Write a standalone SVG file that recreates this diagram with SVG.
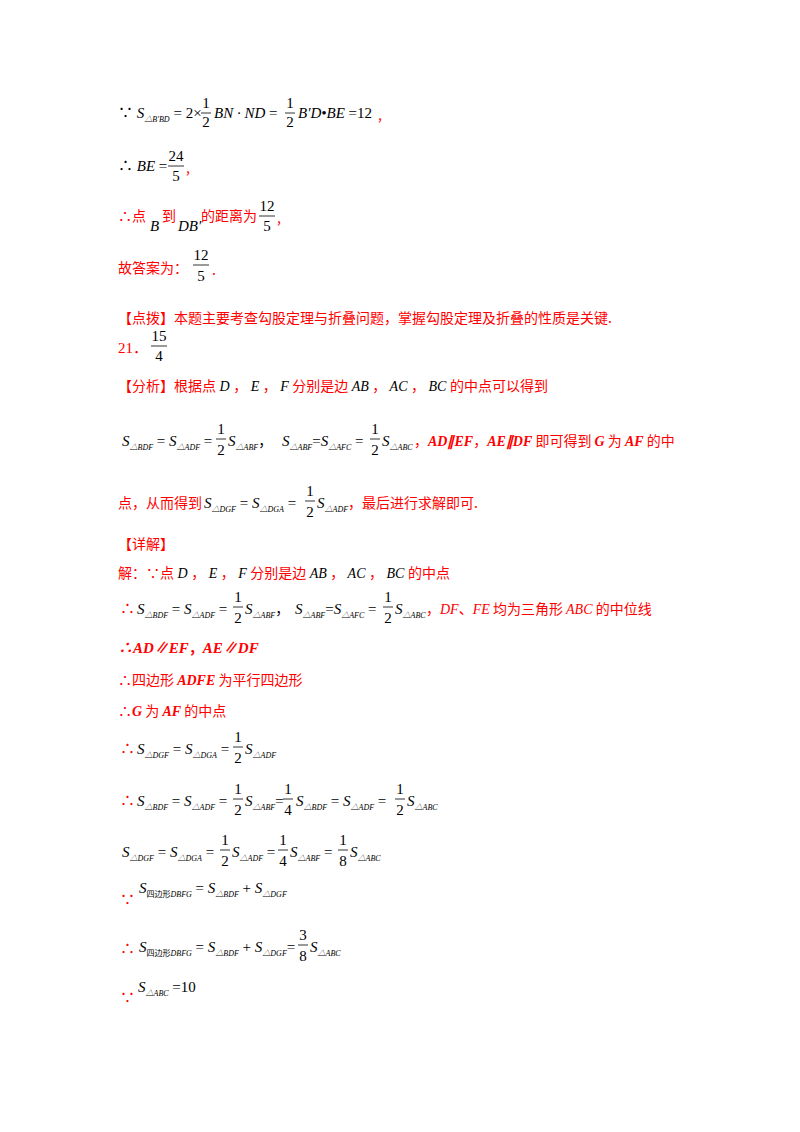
<svg xmlns="http://www.w3.org/2000/svg" width="800" height="1132" viewBox="0 0 800 1132">
<style>
text{font-family:"Liberation Serif","Noto Sans CJK SC",serif;font-size:15px;fill:#000}
.i{font-style:italic}
.s{font-size:8px;font-style:italic}
.r{fill:#ff0000}
.c{font-family:"Noto Sans CJK SC",sans-serif;font-size:14px}
.f{text-anchor:middle;font-size:15px}
.fl{stroke:#000;stroke-width:0.8}
</style>
<rect width="800" height="1132" fill="#fff"/>
<g id="l1">
<text x="118" y="118">∵ <tspan class="i">S</tspan><tspan class="s" dy="4">△B′BD</tspan><tspan dy="-4" dx="4">= 2×</tspan></text>
<text class="f" x="206" y="108">1</text><line class="fl" x1="201" y1="113" x2="211" y2="113"/><text class="f" x="206" y="127">2</text>
<text class="i" x="214" y="118">BN · ND <tspan font-style="normal">=</tspan></text>
<text class="f" x="290" y="108">1</text><line class="fl" x1="285" y1="113" x2="295" y2="113"/><text class="f" x="290" y="127">2</text>
<text class="i" x="298" y="118">B′D•BE <tspan font-style="normal">=12</tspan></text>
<text class="r c" x="378" y="120">,</text>
</g>
<g id="l2">
<text x="118" y="171">∴ <tspan class="i">BE</tspan> =</text>
<text class="f" x="176" y="161">24</text><line class="fl" x1="168" y1="166" x2="184" y2="166"/><text class="f" x="176" y="181">5</text>
<text class="r c" x="186" y="173">,</text>
</g>
<g id="l3">
<text class="r c" x="118" y="221">∴点</text>
<text class="i" x="150" y="231" font-size="13">B</text>
<text class="r c" x="162" y="221">到</text>
<text class="i" x="178" y="231" font-size="13">DB′</text>
<text class="r c" x="201" y="221">的距离为</text>
<text class="f" x="267" y="211">12</text><line class="fl" x1="259" y1="216" x2="275" y2="216"/><text class="f" x="267" y="231">5</text>
<text class="r c" x="277" y="223">,</text>
</g>
<g id="l4">
<text class="r c" x="118" y="273">故答案为：</text>
<text class="f" x="201" y="260">12</text><line class="fl" x1="193" y1="265" x2="209" y2="265"/><text class="f" x="201" y="281">5</text>
<text class="r c" x="212" y="275">.</text>
</g>
<text id="l5" class="r c" x="118" y="323">【点拨】本题主要考查勾股定理与折叠问题，掌握勾股定理及折叠的性质是关键.</text>
<g id="l6">
<text class="r" x="118" y="353">21．</text>
<text class="f" x="159" y="341">15</text><line class="fl" x1="151" y1="346" x2="167" y2="346"/><text class="f" x="159" y="361">4</text>
</g>
<text id="l7" class="r c" x="118" y="391">【分析】根据点<tspan class="i" style="fill:#000;font-family:'Liberation Serif'"> D </tspan>，<tspan class="i" style="fill:#000;font-family:'Liberation Serif'"> E </tspan>，<tspan class="i" style="fill:#000;font-family:'Liberation Serif'"> F </tspan>分别是边<tspan class="i" style="fill:#000;font-family:'Liberation Serif'"> AB </tspan>，<tspan class="i" style="fill:#000;font-family:'Liberation Serif'"> AC </tspan>，<tspan class="i" style="fill:#000;font-family:'Liberation Serif'"> BC </tspan>的中点可以得到</text>
<g id="l8">
<text x="122" y="446"><tspan class="i">S</tspan><tspan class="s" dy="4">△BDF</tspan><tspan dy="-4"> = </tspan><tspan class="i">S</tspan><tspan class="s" dy="4">△ADF</tspan><tspan dy="-4"> =</tspan></text>
<text class="f" x="221" y="434">1</text><line class="fl" x1="216" y1="439" x2="226" y2="439"/><text class="f" x="221" y="455">2</text>
<text x="228" y="446"><tspan class="i">S</tspan><tspan class="s" dy="4">△ABF</tspan><tspan dy="-4" class="c">，</tspan></text>
<text x="282" y="446"><tspan class="i">S</tspan><tspan class="s" dy="4">△ABF</tspan><tspan dy="-4">=</tspan><tspan class="i">S</tspan><tspan class="s" dy="4">△AFC</tspan><tspan dy="-4"> =</tspan></text>
<text class="f" x="375" y="434">1</text><line class="fl" x1="370" y1="439" x2="380" y2="439"/><text class="f" x="375" y="455">2</text>
<text x="382" y="446"><tspan class="i">S</tspan><tspan class="s" dy="4">△ABC</tspan></text>
<text class="r c" x="414" y="446">，<tspan class="i" font-family="Liberation Serif" font-weight="bold">AD∥EF</tspan>，<tspan class="i" font-family="Liberation Serif" font-weight="bold">AE∥DF</tspan> 即可得到 <tspan class="i" font-family="Liberation Serif" font-weight="bold">G</tspan> 为 <tspan class="i" font-family="Liberation Serif" font-weight="bold">AF</tspan> 的中</text>
</g>
<g id="l9">
<text class="r c" x="118" y="508">点，从而得到</text>
<text x="204" y="508"><tspan class="i">S</tspan><tspan class="s" dy="4">△DGF</tspan><tspan dy="-4"> = </tspan><tspan class="i">S</tspan><tspan class="s" dy="4">△DGA</tspan><tspan dy="-4"> =</tspan></text>
<text class="f" x="310" y="496">1</text><line class="fl" x1="305" y1="501" x2="315" y2="501"/><text class="f" x="310" y="517">2</text>
<text x="317" y="508"><tspan class="i">S</tspan><tspan class="s" dy="4">△ADF</tspan></text>
<text class="r c" x="348" y="508">，最后进行求解即可.</text>
</g>
<text id="l10" class="r c" x="118" y="549">【详解】</text>
<text id="l11" class="r c" x="118" y="578">解：∵点<tspan class="i" style="fill:#000;font-family:'Liberation Serif'"> D </tspan>，<tspan class="i" style="fill:#000;font-family:'Liberation Serif'"> E </tspan>，<tspan class="i" style="fill:#000;font-family:'Liberation Serif'"> F </tspan>分别是边<tspan class="i" style="fill:#000;font-family:'Liberation Serif'"> AB </tspan>，<tspan class="i" style="fill:#000;font-family:'Liberation Serif'"> AC </tspan>，<tspan class="i" style="fill:#000;font-family:'Liberation Serif'"> BC </tspan>的中点</text>
<g id="l12">
<text class="r" x="120" y="614">∴</text>
<text x="137" y="614"><tspan class="i">S</tspan><tspan class="s" dy="4">△BDF</tspan><tspan dy="-4"> = </tspan><tspan class="i">S</tspan><tspan class="s" dy="4">△ADF</tspan><tspan dy="-4"> =</tspan></text>
<text class="f" x="238" y="602">1</text><line class="fl" x1="233" y1="607" x2="243" y2="607"/><text class="f" x="238" y="623">2</text>
<text x="245" y="614"><tspan class="i">S</tspan><tspan class="s" dy="4">△ABF</tspan><tspan dy="-4" class="c">，</tspan></text>
<text x="295" y="614"><tspan class="i">S</tspan><tspan class="s" dy="4">△ABF</tspan><tspan dy="-4">=</tspan><tspan class="i">S</tspan><tspan class="s" dy="4">△AFC</tspan><tspan dy="-4"> =</tspan></text>
<text class="f" x="388" y="602">1</text><line class="fl" x1="383" y1="607" x2="393" y2="607"/><text class="f" x="388" y="623">2</text>
<text x="395" y="614"><tspan class="i">S</tspan><tspan class="s" dy="4">△ABC</tspan></text>
<text class="r c" x="426" y="614">，<tspan class="i" font-family="Liberation Serif">DF</tspan>、<tspan class="i" font-family="Liberation Serif">FE</tspan> 均为三角形 <tspan class="i" font-family="Liberation Serif">ABC</tspan> 的中位线</text>
</g>
<text id="l13" class="r i" x="118" y="653" font-weight="bold">∴AD∥EF<tspan class="c" font-style="normal">，</tspan>AE∥DF</text>
<text id="l14" class="r c" x="118" y="685">∴四边形 <tspan class="i" font-family="Liberation Serif" font-weight="bold">ADFE</tspan> 为平行四边形</text>
<text id="l15" class="r c" x="118" y="716">∴<tspan class="i" font-family="Liberation Serif" font-weight="bold">G</tspan> 为 <tspan class="i" font-family="Liberation Serif" font-weight="bold">AF</tspan> 的中点</text>
<g id="l16">
<text class="r" x="120" y="754">∴</text>
<text x="137" y="754"><tspan class="i">S</tspan><tspan class="s" dy="4">△DGF</tspan><tspan dy="-4"> = </tspan><tspan class="i">S</tspan><tspan class="s" dy="4">△DGA</tspan><tspan dy="-4"> =</tspan></text>
<text class="f" x="238" y="742">1</text><line class="fl" x1="233" y1="747" x2="243" y2="747"/><text class="f" x="238" y="763">2</text>
<text x="245" y="754"><tspan class="i">S</tspan><tspan class="s" dy="4">△ADF</tspan></text>
</g>
<g id="l17">
<text class="r" x="120" y="806">∴</text>
<text x="137" y="806"><tspan class="i">S</tspan><tspan class="s" dy="4">△BDF</tspan><tspan dy="-4"> = </tspan><tspan class="i">S</tspan><tspan class="s" dy="4">△ADF</tspan><tspan dy="-4"> =</tspan></text>
<text class="f" x="238" y="794">1</text><line class="fl" x1="233" y1="799" x2="243" y2="799"/><text class="f" x="238" y="815">2</text>
<text x="245" y="806"><tspan class="i">S</tspan><tspan class="s" dy="4">△ABF</tspan><tspan dy="-4">=</tspan></text>
<text class="f" x="288" y="794">1</text><line class="fl" x1="283" y1="799" x2="293" y2="799"/><text class="f" x="288" y="815">4</text>
<text x="296" y="806"><tspan class="i">S</tspan><tspan class="s" dy="4">△BDF</tspan><tspan dy="-4"> = </tspan><tspan class="i">S</tspan><tspan class="s" dy="4">△ADF</tspan><tspan dy="-4"> =</tspan></text>
<text class="f" x="400" y="794">1</text><line class="fl" x1="395" y1="799" x2="405" y2="799"/><text class="f" x="400" y="815">2</text>
<text x="407" y="806"><tspan class="i">S</tspan><tspan class="s" dy="4">△ABC</tspan></text>
</g>
<g id="l18">
<text x="122" y="857"><tspan class="i">S</tspan><tspan class="s" dy="4">△DGF</tspan><tspan dy="-4"> = </tspan><tspan class="i">S</tspan><tspan class="s" dy="4">△DGA</tspan><tspan dy="-4"> =</tspan></text>
<text class="f" x="225" y="845">1</text><line class="fl" x1="220" y1="850" x2="230" y2="850"/><text class="f" x="225" y="866">2</text>
<text x="232" y="857"><tspan class="i">S</tspan><tspan class="s" dy="4">△ADF</tspan><tspan dy="-4"> =</tspan></text>
<text class="f" x="283" y="845">1</text><line class="fl" x1="278" y1="850" x2="288" y2="850"/><text class="f" x="283" y="866">4</text>
<text x="290" y="857"><tspan class="i">S</tspan><tspan class="s" dy="4">△ABF</tspan><tspan dy="-4"> =</tspan></text>
<text class="f" x="343" y="845">1</text><line class="fl" x1="338" y1="850" x2="348" y2="850"/><text class="f" x="343" y="866">8</text>
<text x="350" y="857"><tspan class="i">S</tspan><tspan class="s" dy="4">△ABC</tspan></text>
</g>
<g id="l19">
<text class="r" x="120" y="905">∵</text>
<text x="139" y="893"><tspan class="i">S</tspan><tspan dy="4" font-size="8px" font-family="Noto Sans CJK SC">四边形</tspan><tspan class="s" dy="0">DBFG</tspan><tspan dy="-4"> = </tspan><tspan class="i">S</tspan><tspan class="s" dy="4">△BDF</tspan><tspan dy="-4"> + </tspan><tspan class="i">S</tspan><tspan class="s" dy="4">△DGF</tspan></text>
</g>
<g id="l20">
<text class="r" x="120" y="954">∴</text>
<text x="139" y="952"><tspan class="i">S</tspan><tspan dy="4" font-size="8px" font-family="Noto Sans CJK SC">四边形</tspan><tspan class="s" dy="0">DBFG</tspan><tspan dy="-4"> = </tspan><tspan class="i">S</tspan><tspan class="s" dy="4">△BDF</tspan><tspan dy="-4"> + </tspan><tspan class="i">S</tspan><tspan class="s" dy="4">△DGF</tspan><tspan dy="-4">=</tspan></text>
<text class="f" x="303" y="940">3</text><line class="fl" x1="298" y1="945" x2="308" y2="945"/><text class="f" x="303" y="961">8</text>
<text x="310" y="952"><tspan class="i">S</tspan><tspan class="s" dy="4">△ABC</tspan></text>
</g>
<g id="l21">
<text class="r" x="120" y="1003">∵</text>
<text x="138" y="992"><tspan class="i">S</tspan><tspan class="s" dy="4">△ABC</tspan><tspan dy="-4"> =10</tspan></text>
</g>
</svg>
